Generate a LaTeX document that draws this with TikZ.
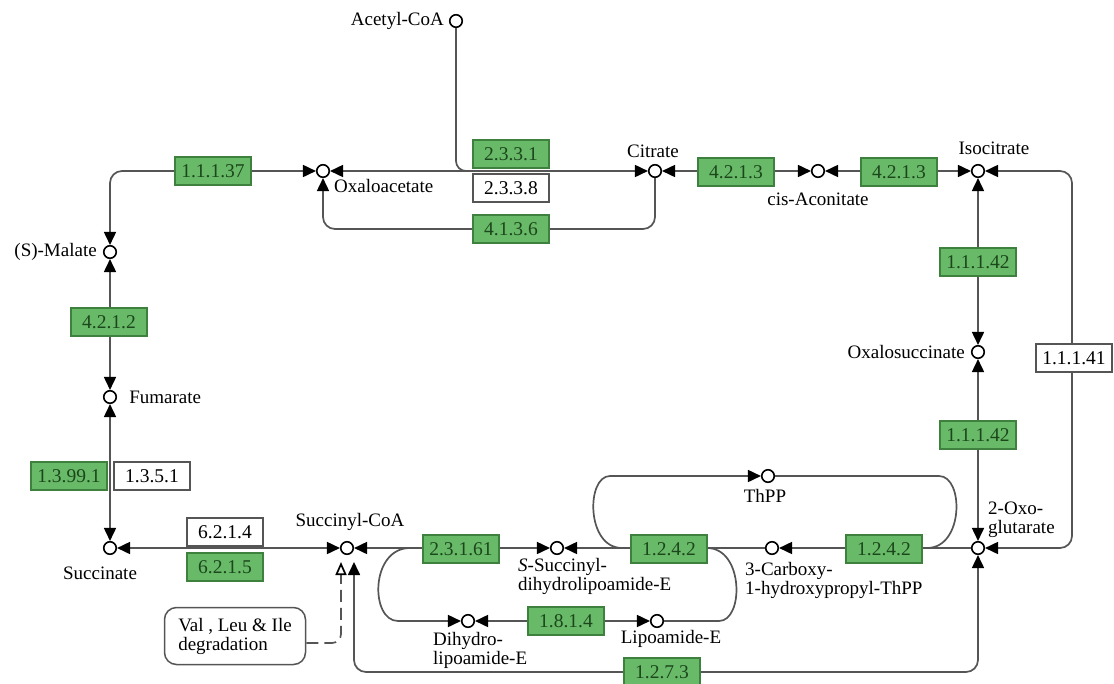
\documentclass[tikz,border=0pt]{standalone}
\usepackage{fontspec}
\setmainfont{Liberation Serif}
\usetikzlibrary{arrows.meta, positioning}
\definecolor{keggreen}{RGB}{104,186,104}
\definecolor{keggedge}{RGB}{62,128,62}
\definecolor{keggtext}{RGB}{28,70,28}
\definecolor{linegray}{RGB}{85,85,85}

\begin{document}
\begin{tikzpicture}[
    x=1pt, y=-1pt,
    >={Triangle[length=13pt, width=12pt, color=black]},
    compound/.style={circle, draw, line width=1.6pt, fill=white, inner sep=0pt, minimum size=12.5pt},
    cname/.style={font=\fontsize{19}{19}\selectfont, inner sep=0pt, align=left},
    enzyme/.style={rectangle, draw=keggedge, line width=1.2pt, fill=keggreen, text=keggtext,
        minimum width=76pt, minimum height=28pt, inner sep=0pt, font=\fontsize{19.5}{19.5}\selectfont},
    enzymew/.style={enzyme, draw=linegray, fill=white, text=black},
    pathway/.style={rectangle, rounded corners=12pt, draw=linegray, line width=1.5pt,
        minimum width=141pt, minimum height=57pt, cname},
    every edge/.style={draw, line width=1.7pt, linegray},
    link/.style={draw, line width=1.7pt, linegray, rounded corners=12pt}
]
\useasboundingbox (0,0) rectangle (1114,683);

% Compounds
\node[compound] (acoa) at (456,21) {};
\node[compound] (oaa) at (323,171) {};
\node[compound] (cit) at (655,171) {};
\node[compound] (cisa) at (818,171) {};
\node[compound] (icit) at (978,171) {};
\node[compound] (mal) at (110,252) {};
\node[compound] (fum) at (110,397) {};
\node[compound] (suc) at (110,548) {};
\node[compound] (scoa) at (347,548) {};
\node[compound] (ssdl) at (557,548) {};
\node[compound] (thpp) at (768,476) {};
\node[compound] (chpt) at (772,548) {};
\node[compound] (ogl) at (978,548) {};
\node[compound] (osuc) at (978,352) {};
\node[compound] (dlip) at (468,621) {};
\node[compound] (lip) at (657,621) {};

\node[pathway] (vli) at (235,636) {Val , Leu \& Ile\\degradation};

% Compound names
\node[cname, left=5pt of acoa] (acoaL) {Acetyl-CoA};
\node[cname, anchor=west] (oaaL) at (334,186) {Oxaloacetate};
\node[cname] (citL) at (653,151) {Citrate};
\node[cname] (cisaL) at (818,199) {cis-Aconitate};
\node[cname] (icitL) at (994,148) {Isocitrate};
\node[cname, left=6pt of mal] (malL) {(S)-Malate};
\node[cname, right=12pt of fum] (fumL) {Fumarate};
\node[cname] (sucL) at (100,573) {Succinate};
\node[cname] (scoaL) at (350,522) {Succinyl-CoA};
\node[cname, anchor=west] (ssdlL) at (518,576) {\textit{S}-Succinyl-\\dihydrolipoamide-E};
\node[cname] (thppL) at (765,496) {ThPP};
\node[cname, anchor=west] (chptL) at (745,580) {3-Carboxy-\\1-hydroxypropyl-ThPP};
\node[cname, anchor=west] (oglL) at (988,520) {2-Oxo-\\glutarate};
\node[cname, left=6pt of osuc] (osucL) {Oxalosuccinate};
\node[cname, anchor=west] (dlipL) at (433,650) {Dihydro-\\lipoamide-E};
\node[cname] (lipL) at (671,639) {Lipoamide-E};

% Free ends of the connectors
\coordinate (acj) at (470,171);
\coordinate (scoaA) at (341,562);
\coordinate (scoaB) at (354,562);
\coordinate (lpA) at (410,548);
\coordinate (lpB) at (410,621);
\coordinate (lpC) at (707,621);
\coordinate (lpD) at (707,548);
\coordinate (tpA) at (622,548);
\coordinate (tpB) at (622,476);
\coordinate (tpC) at (927,476);
\coordinate (tpD) at (927,548);

% Reactions
\draw[link, <->] (mal) |- (oaa);
\draw[link, rounded corners=10pt] (acoa) |- (acj);
\path (cit) edge[<->] (oaa);
\draw[link, ->] (cit) -- ++(0,58) -| (oaa);
\path (cisa) edge[<->] (cit);
\path (icit) edge[<->] (cisa);
\path (icit) edge[<->] (osuc);
\path (osuc) edge[<->] (ogl);
\draw[link, <->] (icit) -- ++(94,0) |- (ogl);
\path (mal) edge[<->] (fum);
\path (fum) edge[<->] (suc);
\path (suc) edge[<->] (scoa);
\path (ssdl) edge[<->] (scoa);
\draw[link, ->] (lpA) .. controls +(-40,0) and +(-40,0) .. (lpB) -- (dlip);
\path (lip) edge[<->] (dlip);
\draw[link] (lip) -- (lpC) .. controls +(37,0) and +(37,0) .. (lpD);
\path (chpt) edge[->] (ssdl);
\draw[link, ->] (tpA) .. controls +(-36,0) and +(-36,0) .. (tpB) -- (thpp);
\draw[link] (thpp) -- (tpC) .. controls +(37,0) and +(37,0) .. (tpD);
\path (ogl) edge[->] (chpt);
\draw[link, <->] (ogl) -- ++(0,124) -| (scoaB);
\draw[link, rounded corners=9pt, dash pattern=on 12pt off 6pt,
    -{Triangle[open, length=13pt, width=11pt, color=black]}] ([yshift=-7pt]vli.east) -| (scoaA);

% Enzymes
\node[enzyme] (e11137) at (213,171) {1.1.1.37};
\node[enzyme] (e2331) at (511,154) {2.3.3.1};
\node[enzymew] (e2338) at (511,188) {2.3.3.8};
\node[enzyme] (e4136) at (511,229) {4.1.3.6};
\node[enzyme] (e4213a) at (736,172) {4.2.1.3};
\node[enzyme] (e4213b) at (899,172) {4.2.1.3};
\node[enzyme] (e11142a) at (978,262) {1.1.1.42};
\node[enzyme] (e11142b) at (978,435) {1.1.1.42};
\node[enzymew] (e11141) at (1074,358) {1.1.1.41};
\node[enzyme] (e4212) at (109,322) {4.2.1.2};
\node[enzyme] (e13991) at (69,476) {1.3.99.1};
\node[enzymew] (e1351) at (152,476) {1.3.5.1};
\node[enzymew] (e6214) at (225,532) {6.2.1.4};
\node[enzyme] (e6215) at (225,567) {6.2.1.5};
\node[enzyme] (e23161) at (461,549) {2.3.1.61};
\node[enzyme] (e1242a) at (669,549) {1.2.4.2};
\node[enzyme] (e1242b) at (884,549) {1.2.4.2};
\node[enzyme] (e1814) at (566,621) {1.8.1.4};
\node[enzyme] (e1273) at (662,672) {1.2.7.3};
\end{tikzpicture}
\end{document}
